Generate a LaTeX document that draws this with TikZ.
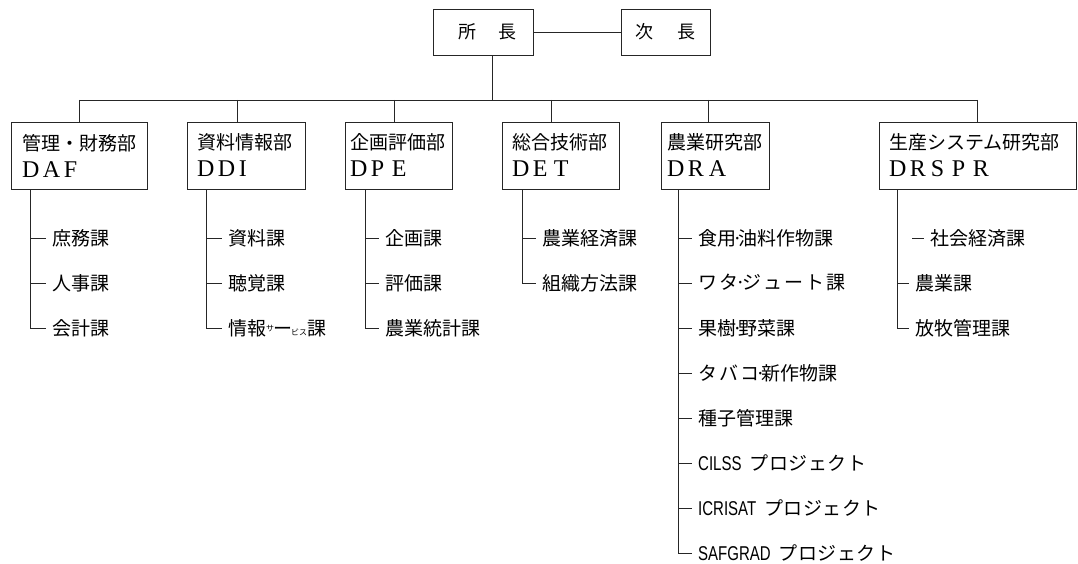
\documentclass[tikz,border=0pt]{standalone}
\usepackage{fontspec}
\usepackage{graphicx}
\setmainfont{Liberation Serif}
\newfontfamily\jp{Noto Sans CJK JP}
\newfontfamily\lsans{Liberation Sans}
\newfontfamily\lserif{Liberation Serif}
\newcommand\wl[1]{\makebox[21pt][l]{#1}}
\newcommand\latn[1]{{\lserif\fontsize{24}{27}\selectfont #1}}
\newcommand\proj[1]{\scalebox{0.75}[1]{\lsans\fontsize{20}{20}\selectfont #1}}
\begin{document}
\begin{tikzpicture}[x=1pt,y=-1pt,
  ln/.style={line width=0.8pt, draw=black!85},
  topbox/.style={ln, minimum height=46pt, inner sep=0pt, font=\jp\fontsize{18}{18}\selectfont},
  dept/.style={ln, minimum height=67pt, inner ysep=0pt, align=left, font=\jp\fontsize{19}{27}\selectfont},
  item/.style={anchor=west, inner xsep=6pt, inner ysep=0pt, font=\jp\fontsize{19}{19}\selectfont}
]
\useasboundingbox (0,0) rectangle (1078,564);

% top
\node[topbox, minimum width=100pt] (chief) at (483,32) {\hspace{8pt}所\hspace{22pt}長};
\node[topbox, minimum width=89pt] (vice) at (665.5,32) {次\hspace{24pt}長};
\draw[ln] (chief.east) -- (vice.west);
\coordinate (bar) at (492,100);
\draw[ln] (chief.south -| bar) -- (bar);

% departments
\node[dept, text width=114pt, inner xsep=11pt] (A) at (79,155.5)
  {管理・財務部\\\latn{\wl{D}\wl{A}\wl{F}}};
\node[dept, text width=98pt, inner xsep=10pt] (B) at (246,155.5)
  {資料情報部\\\latn{\wl{D}\wl{D}\wl{I}}};
\node[dept, text width=97pt, inner xsep=5pt] (C) at (398.5,155.5)
  {企画評価部\\\latn{\wl{D}\wl{P}\wl{E}}};
\node[dept, text width=97pt, inner xsep=10pt] (D) at (560.5,155.5)
  {総合技術部\\\latn{\wl{D}\wl{E}\wl{T}}};
\node[dept, text width=96pt, inner xsep=6pt] (E) at (715,155.5)
  {農業研究部\\\latn{\wl{D}\wl{R}\wl{A}}};
\node[dept, text width=177pt, inner xsep=10pt] (F) at (977.5,155.5)
  {生産システム研究部\\\latn{\wl{D}\wl{R}\wl{S}\wl{P}\wl{R}}};

% bar and drops
\coordinate (bA) at (79,100);
\coordinate (bB) at (237,100);
\coordinate (bC) at (394,100);
\coordinate (bD) at (551,100);
\coordinate (bE) at (708,100);
\coordinate (bF) at (977,100);
\draw[ln] (bA) -- (bF);
\foreach \d in {A,B,C,D,E,F} \draw[ln] (b\d) -- (b\d |- \d.north);

% DAF
\node[item] (a1) at (46,238) {庶務課};
\node[item] (a2) at (46,283) {人事課};
\node[item] (a3) at (46,328) {会計課};
\coordinate (tA) at (30,328);
\draw[ln] (A.south -| tA) -- (tA);
\foreach \i in {1,2,3} \draw[ln] (tA |- a\i) -- (a\i.west);

% DDI
\node[item] (b1) at (222,238) {資料課};
\node[item] (b2) at (222,283) {聴覚課};
\node[item] (b3) at (222,328) {情報{\fontsize{8}{8}\selectfont\raisebox{4pt}{サ}}\kern-1pt ー\kern-1pt{\fontsize{8}{8}\selectfont ビス}課};
\coordinate (tB) at (206,328);
\draw[ln] (B.south -| tB) -- (tB);
\foreach \i in {1,2,3} \draw[ln] (tB |- b\i) -- (b\i.west);

% DPE
\node[item] (c1) at (379,238) {企画課};
\node[item] (c2) at (379,283) {評価課};
\node[item] (c3) at (379,328) {農業統計課};
\coordinate (tC) at (365,328);
\draw[ln] (C.south -| tC) -- (tC);
\foreach \i in {1,2,3} \draw[ln] (tC |- c\i) -- (c\i.west);

% DET
\node[item] (d1) at (536,238) {農業経済課};
\node[item] (d2) at (536,283) {組織方法課};
\coordinate (tD) at (522,283);
\draw[ln] (D.south -| tD) -- (tD);
\foreach \i in {1,2} \draw[ln] (tD |- d\i) -- (d\i.west);

% DRA
\node[item] (e1) at (692,238) {食用\kern-4pt·\kern-4pt 油料作物課};
\node[item] (e2) at (692,283) {ワ\hspace{2pt}タ\kern-3pt·\kern-3pt ジ\hspace{2pt}ュ\hspace{2pt}ー\hspace{2pt}ト\hspace{2pt}課};
\node[item] (e3) at (692,328) {果樹\kern-4pt·\kern-4pt 野菜課};
\node[item] (e4) at (692,373) {タ\hspace{2pt}バ\hspace{2pt}コ\kern-4pt·\kern-4pt 新作物課};
\node[item] (e5) at (692,418) {種子管理課};
\node[item] (e6) at (692,463) {\proj{CILSS}\hspace{8pt}プ\hspace{0.5pt}ロ\hspace{0.5pt}ジ\hspace{0.5pt}ェ\hspace{0.5pt}ク\hspace{0.5pt}ト};
\node[item] (e7) at (692,508) {\proj{ICRISAT}\hspace{8pt}プ\hspace{0.5pt}ロ\hspace{0.5pt}ジ\hspace{0.5pt}ェ\hspace{0.5pt}ク\hspace{0.5pt}ト};
\node[item] (e8) at (692,553) {\proj{SAFGRAD}\hspace{8pt}プ\hspace{0.5pt}ロ\hspace{0.5pt}ジ\hspace{0.5pt}ェ\hspace{0.5pt}ク\hspace{0.5pt}ト};
\coordinate (tE) at (678,553);
\draw[ln] (E.south -| tE) -- (tE);
\foreach \i in {1,...,8} \draw[ln] (tE |- e\i) -- (e\i.west);

% DRSPR
\node[item] (f1) at (924,238) {社会経済課};
\node[item] (f2) at (909,283) {農業課};
\node[item] (f3) at (909,328) {放牧管理課};
\coordinate (tF) at (897,328);
\coordinate (f1s) at (912,238);
\draw[ln] (F.south -| tF) -- (tF);
\draw[ln] (f1s) -- (f1.west);
\foreach \i in {2,3} \draw[ln] (tF |- f\i) -- (f\i.west);
\end{tikzpicture}
\end{document}
